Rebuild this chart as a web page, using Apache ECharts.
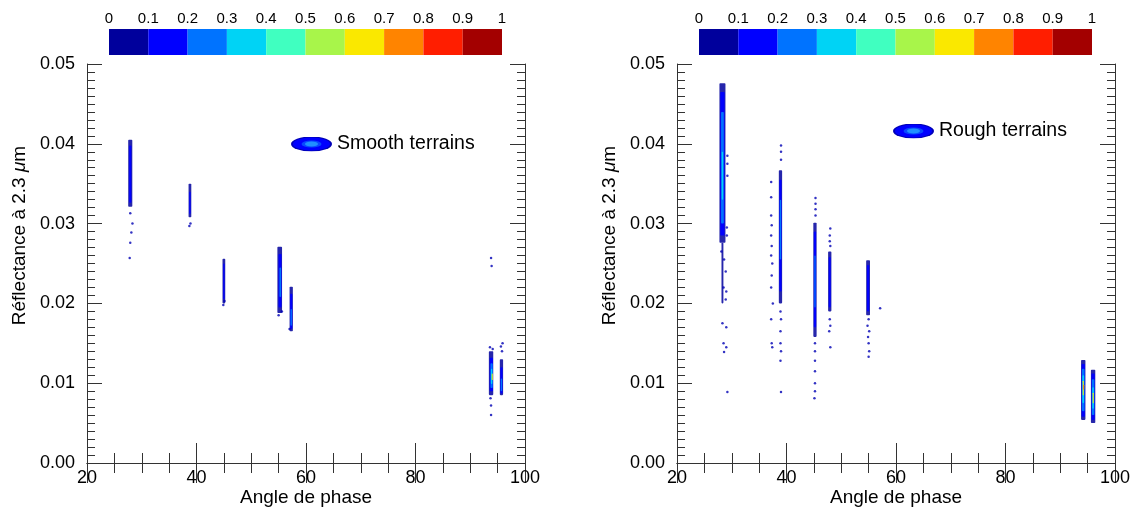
<!DOCTYPE html>
<html><head><meta charset="utf-8">
<script src="https://cdn.jsdelivr.net/npm/echarts@6/dist/echarts.min.js"></script>
<style>html,body{margin:0;padding:0;background:#fff}#c{width:1135px;height:508px}</style>
</head><body><div id="c"></div>
<script>
// ---------- data ----------
const colorbarTicks = [0, 0.1, 0.2, 0.3, 0.4, 0.5, 0.6, 0.7, 0.8, 0.9, 1];
const levelColors = ['#00009C', '#0000FF', '#0073FF', '#00D3F5', '#40FFC0', '#A8F54A', '#FAE800', '#FF8400', '#FF1E00', '#A30000'];
const xRange = [20, 100];
const yRange = [0, 0.05];
const seriesNames = ['Smooth terrains', 'Rough terrains'];

// density strips: [phase angle, reflectance low, reflectance high, width (deg), colour level]
const smoothStrips = [
  [27.9, 0.0321, 0.0405, 0.75, 0],
  [27.9, 0.0326, 0.0398, 0.4, 1],
  [38.8, 0.0308, 0.0350, 0.5, 0],
  [38.8, 0.0312, 0.0340, 0.25, 1],
  [45.0, 0.0200, 0.0256, 0.5, 0],
  [45.0, 0.0205, 0.0250, 0.25, 1],
  [55.2, 0.0188, 0.0271, 0.85, 0],
  [55.25, 0.0195, 0.0262, 0.55, 1],
  [55.3, 0.0208, 0.0245, 0.3, 2],
  [57.3, 0.0165, 0.0221, 0.6, 0],
  [57.3, 0.0168, 0.0212, 0.4, 1],
  [57.3, 0.0172, 0.0193, 0.25, 2],
  [93.8, 0.0085, 0.0140, 0.8, 0],
  [93.85, 0.0090, 0.0132, 0.6, 1],
  [93.9, 0.0094, 0.0125, 0.4, 2],
  [93.9, 0.0099, 0.0118, 0.25, 3],
  [94.0, 0.0104, 0.0112, 0.15, 6],
  [95.7, 0.0085, 0.0130, 0.6, 0],
  [95.7, 0.0087, 0.0120, 0.4, 1],
  [95.7, 0.0090, 0.0106, 0.25, 2]
];
const smoothPoints = [
  [27.9, 0.0313], [28.1, 0.0289], [27.9, 0.0276], [27.8, 0.0257], [28.3, 0.0300],
  [38.7, 0.0297], [38.9, 0.0300],
  [44.9, 0.0198], [45.1, 0.0203],
  [55.0, 0.0185], [55.6, 0.0190], [57.0, 0.0168],
  [93.8, 0.0257], [93.9, 0.0247],
  [93.7, 0.0081], [93.8, 0.0072], [93.8, 0.0060],
  [93.6, 0.0145], [94.1, 0.0143], [95.9, 0.0150], [95.6, 0.0146], [95.8, 0.0140]
];
const roughStrips = [
  [28.3, 0.0276, 0.0476, 1.1, 0],
  [28.3, 0.0285, 0.0465, 0.8, 1],
  [28.3, 0.0300, 0.0440, 0.5, 2],
  [28.3, 0.0330, 0.0390, 0.25, 3],
  [28.3, 0.0200, 0.0276, 0.35, 0],
  [38.9, 0.0200, 0.0367, 0.6, 0],
  [38.9, 0.0215, 0.0355, 0.4, 1],
  [38.9, 0.0255, 0.0330, 0.25, 2],
  [45.2, 0.0158, 0.0301, 0.6, 0],
  [45.2, 0.0170, 0.0290, 0.4, 1],
  [45.2, 0.0195, 0.0260, 0.22, 2],
  [47.9, 0.0190, 0.0265, 0.6, 0],
  [47.9, 0.0195, 0.0258, 0.35, 1],
  [54.9, 0.0185, 0.0254, 0.7, 0],
  [54.9, 0.0190, 0.0248, 0.4, 1],
  [94.2, 0.0054, 0.0129, 0.8, 0],
  [94.2, 0.0058, 0.0124, 0.6, 1],
  [94.2, 0.0065, 0.0118, 0.45, 2],
  [94.2, 0.0075, 0.0110, 0.3, 3],
  [94.2, 0.0085, 0.0103, 0.18, 6],
  [94.25, 0.0092, 0.0098, 0.1, 7],
  [96.0, 0.0050, 0.0117, 0.8, 0],
  [96.0, 0.0054, 0.0112, 0.6, 1],
  [96.0, 0.0060, 0.0105, 0.45, 2],
  [96.0, 0.0068, 0.0095, 0.28, 3],
  [96.0, 0.0075, 0.0088, 0.14, 6]
];
const roughPoints = [
  [28.1, 0.0265], [28.6, 0.0255], [28.9, 0.0240], [28.5, 0.0220], [29.0, 0.0215],
  [28.9, 0.0205], [28.3, 0.0175], [29.0, 0.0170], [28.5, 0.0150], [29.0, 0.0145],
  [28.6, 0.0139], [29.2, 0.0089], [29.2, 0.0385], [29.2, 0.0375], [29.2, 0.0360],
  [29.1, 0.0295], [29.1, 0.0285],
  [37.2, 0.0352], [37.2, 0.0333], [37.2, 0.0310], [37.3, 0.0298], [37.2, 0.0285],
  [37.3, 0.0272], [37.2, 0.0260], [37.4, 0.0250], [37.3, 0.0235], [37.2, 0.0220],
  [37.5, 0.0200], [37.2, 0.0180], [37.3, 0.0150], [37.4, 0.0145],
  [38.9, 0.0190], [39.0, 0.0180], [38.9, 0.0165], [38.9, 0.0150], [39.0, 0.0140],
  [38.9, 0.0128], [39.0, 0.0089], [39.0, 0.0398], [39.0, 0.0390], [39.0, 0.0380],
  [45.3, 0.0332], [45.3, 0.0325], [45.3, 0.0318], [45.3, 0.0310],
  [45.2, 0.0150], [45.2, 0.0140], [45.2, 0.0128], [45.2, 0.0115], [45.2, 0.0100],
  [45.2, 0.0090], [45.1, 0.0081],
  [48.0, 0.0294], [47.9, 0.0285], [47.9, 0.0278], [48.0, 0.0272],
  [47.9, 0.0180], [48.0, 0.0172], [47.8, 0.0165], [48.0, 0.0145],
  [55.0, 0.0180], [54.8, 0.0172], [55.1, 0.0165], [54.9, 0.0158], [55.0, 0.0150],
  [55.1, 0.0140], [55.0, 0.0133], [57.1, 0.0194]
];

// ---------- chart ----------
const FONT = 'Liberation Sans';
const legendSvg = "<svg xmlns='http://www.w3.org/2000/svg' width='82' height='30' viewBox='0 0 41 15'>" +
  "<ellipse cx='20.5' cy='7.5' rx='20.5' ry='7.5' fill='#0000B8'/>" +
  "<ellipse cx='20.5' cy='7.5' rx='18.5' ry='6.5' fill='#0000FF'/>" +
  "<ellipse cx='20.5' cy='7.5' rx='10' ry='3.6' fill='#0848FF'/>" +
  "<ellipse cx='20.5' cy='7.5' rx='6.5' ry='2.4' fill='#2090FF'/></svg>";
const legendIcon = 'image://data:image/svg+xml;charset=utf-8,' + encodeURIComponent(legendSvg);
const panels = [
  { left: 87, strips: smoothStrips, points: smoothPoints, legend: { left: 291, top: 134 } },
  { left: 677, strips: roughStrips, points: roughPoints, legend: { left: 893, top: 121 } }
];
const levelOpacity = [0.85, 0.95, 1, 1, 1, 1, 1, 1, 1, 1];

const grid = [], xAxis = [], yAxis = [], series = [], legend = [];
const tickStyle = { color: '#333', width: 1 };

function stripItem(params, api) {
  const x = api.value(0), y0 = api.value(1), y1 = api.value(2), w = api.value(3), lvl = api.value(4);
  const p0 = api.coord([x - w / 2, y1]);
  const p1 = api.coord([x + w / 2, y0]);
  return { type: 'rect', shape: { x: p0[0], y: p0[1], width: Math.max(1, p1[0] - p0[0]), height: p1[1] - p0[1], r: 0.8 },
    style: { fill: levelColors[lvl], opacity: levelOpacity[lvl] } };
}
function cbItem(params, api) {
  const p0 = api.coord([api.value(0), 1]);
  const p1 = api.coord([api.value(1), 0]);
  return { type: 'rect', shape: { x: p0[0], y: p0[1], width: p1[0] - p0[0], height: p1[1] - p0[1] },
    style: { fill: levelColors[api.value(2)] } };
}

panels.forEach((p, i) => {
  const g = grid.length;
  grid.push({ left: p.left, top: 64, width: 438, height: 399, outerBoundsMode: 'none', containLabel: false });
  const xb = xAxis.length;
  xAxis.push({
    type: 'value', gridIndex: g, position: 'bottom', min: xRange[0], max: xRange[1], interval: 20,
    name: 'Angle de phase', nameLocation: 'middle', nameGap: 25, nameMoveOverlap: false,
    nameTextStyle: { fontFamily: FONT, fontSize: 19, color: '#000' },
    axisLine: { show: true, lineStyle: { color: '#333' } },
    axisTick: { show: true, inside: true, length: 20, lineStyle: tickStyle },
    minorTick: { show: true, splitNumber: 4, length: 10, lineStyle: tickStyle },
    axisLabel: { fontFamily: FONT, fontSize: 18, color: '#000', margin: 6 },
    splitLine: { show: false }
  });
  xAxis.push({
    type: 'value', gridIndex: g, position: 'top', min: xRange[0], max: xRange[1], interval: 20,
    axisLine: { show: true, lineStyle: { color: '#333' } },
    axisTick: { show: true, inside: true, length: 20, lineStyle: tickStyle },
    minorTick: { show: true, splitNumber: 4, length: 10, lineStyle: tickStyle },
    axisLabel: { show: false }, splitLine: { show: false }
  });
  const yl = yAxis.length;
  yAxis.push({
    type: 'value', gridIndex: g, position: 'left', min: yRange[0], max: yRange[1], interval: 0.01,
    name: 'Réflectance à 2.3 {it|μ}m', nameLocation: 'middle', nameGap: 58, nameRotate: 90, nameMoveOverlap: false,
    nameTextStyle: { fontFamily: FONT, fontSize: 19, color: '#000', padding: [0, 0, 0, 56],
      rich: { it: { fontFamily: FONT, fontSize: 19, fontStyle: 'italic', color: '#000' } } },
    axisLine: { show: true, lineStyle: { color: '#333' } },
    axisTick: { show: true, inside: true, length: 15, lineStyle: tickStyle },
    minorTick: { show: true, splitNumber: 10, length: 8, lineStyle: tickStyle },
    axisLabel: { fontFamily: FONT, fontSize: 18, color: '#000', margin: 12, formatter: v => v.toFixed(2) },
    splitLine: { show: false }
  });
  yAxis.push({
    type: 'value', gridIndex: g, position: 'right', min: yRange[0], max: yRange[1], interval: 0.01,
    axisLine: { show: true, lineStyle: { color: '#333' } },
    axisTick: { show: true, inside: true, length: 15, lineStyle: tickStyle },
    minorTick: { show: true, splitNumber: 10, length: 8, lineStyle: tickStyle },
    axisLabel: { show: false }, splitLine: { show: false }
  });
  series.push({
    type: 'custom', name: seriesNames[i], xAxisIndex: xb, yAxisIndex: yl,
    renderItem: stripItem, data: p.strips, clip: true, itemStyle: { color: '#0000FF' }
  });
  series.push({
    type: 'scatter', name: seriesNames[i], xAxisIndex: xb, yAxisIndex: yl, symbol: 'circle', symbolSize: 2.5,
    itemStyle: { color: '#0000B4' }, data: p.points
  });
  legend.push({
    left: p.legend.left, top: p.legend.top, orient: 'horizontal', padding: 0, itemWidth: 41, itemHeight: 15, itemGap: 6,
    selectedMode: false, textStyle: { fontFamily: FONT, fontSize: 19.5, color: '#000' },
    data: [{ name: seriesNames[i], icon: legendIcon }]
  });

  // colour bar
  const cg = grid.length;
  grid.push({ left: p.left + 22, top: 29, width: 393, height: 26, outerBoundsMode: 'none', containLabel: false });
  const cx = xAxis.length;
  xAxis.push({
    type: 'value', gridIndex: cg, position: 'top', min: 0, max: 1, interval: 0.1,
    axisLine: { show: false }, axisTick: { show: false }, splitLine: { show: false },
    axisLabel: { fontFamily: FONT, fontSize: 15, color: '#000', margin: 3 }
  });
  const cy = yAxis.length;
  yAxis.push({ type: 'value', gridIndex: cg, min: 0, max: 1, show: false });
  const cbData = colorbarTicks.slice(0, -1).map((t, k) => [t, colorbarTicks[k + 1], k]);
  series.push({ type: 'custom', xAxisIndex: cx, yAxisIndex: cy, renderItem: cbItem, data: cbData, silent: true });
});

const chart = echarts.init(document.getElementById('c'), null, { renderer: 'canvas' });
chart.setOption({ animation: false, backgroundColor: '#fff', grid, xAxis, yAxis, series, legend });
</script></body></html>
